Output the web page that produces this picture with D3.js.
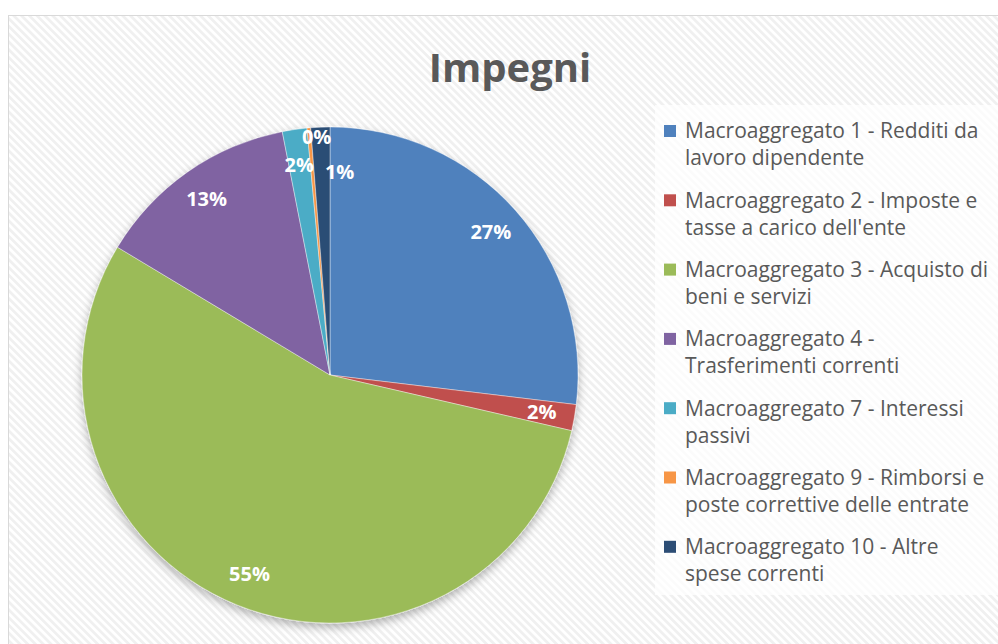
<!DOCTYPE html>
<html>
<head>
<meta charset="utf-8">
<script src="https://cdn.jsdelivr.net/npm/d3@7"></script>
<style>
  html, body { margin: 0; padding: 0; background: #fff; }
  svg { display: block; }
</style>
</head>
<body>
<div id="chart"></div>
<script>
// dati (percentuali)
var categories = [
  "Macroaggregato 1 - Redditi da\nlavoro dipendente",
  "Macroaggregato 2 - Imposte e\ntasse a carico dell'ente",
  "Macroaggregato 3 - Acquisto di\nbeni e servizi",
  "Macroaggregato 4 -\nTrasferimenti correnti",
  "Macroaggregato 7 - Interessi\npassivi",
  "Macroaggregato 9 - Rimborsi e\nposte correttive delle entrate",
  "Macroaggregato 10 - Altre\nspese correnti"
];
var values = [26.9, 1.7, 55.0, 13.3, 1.6, 0.24, 1.24];
var colors = ["#4F81BD", "#C0504D", "#9BBB59", "#8064A2", "#4BACC6", "#F79646", "#2C4D75"];
var title = "Impegni";

var cfg = {
  w: 998,
  h: 644,
  cx: 330,
  cy: 375,
  r: 248,
  labelR: 215,
  font: "'Open Sans', 'DejaVu Sans', sans-serif"
};

var svg = d3.select("#chart").append("svg")
  .attr("width", cfg.w)
  .attr("height", cfg.h);

var defs = svg.append("defs");

// sfondo a righe diagonali
var pat = defs.append("pattern")
  .attr("id", "hatch")
  .attr("patternUnits", "userSpaceOnUse")
  .attr("width", 5.5)
  .attr("height", 5.5)
  .attr("patternTransform", "rotate(45)");
pat.append("rect").attr("width", 5.5).attr("height", 5.5).attr("fill", "#ffffff");
pat.append("rect").attr("width", 5.5).attr("height", 2.7).attr("fill", "#f0f0f0");

var shadow = defs.append("filter")
  .attr("id", "shadow")
  .attr("x", "-20%").attr("y", "-20%")
  .attr("width", "140%").attr("height", "140%");
shadow.append("feDropShadow")
  .attr("dx", 0).attr("dy", 4)
  .attr("stdDeviation", 5)
  .attr("flood-color", "#000")
  .attr("flood-opacity", 0.3);

svg.append("rect")
  .attr("x", 8.5).attr("y", 15.5)
  .attr("width", cfg.w).attr("height", cfg.h)
  .attr("fill", "url(#hatch)")
  .attr("stroke", "#d9d9d9")
  .attr("stroke-width", 1);

// titolo
svg.append("text")
  .attr("x", 510)
  .attr("y", 82)
  .attr("text-anchor", "middle")
  .style("font-family", cfg.font)
  .style("font-size", "40px")
  .style("font-weight", "bold")
  .style("fill", "#595959")
  .text(title);

// torta
var pie = d3.pie().sort(null).value(function(d){ return d; });
var arcs = pie(values);
var arc = d3.arc().innerRadius(0).outerRadius(cfg.r);
var labelArc = d3.arc().innerRadius(cfg.labelR).outerRadius(cfg.labelR);

var g = svg.append("g")
  .attr("transform", "translate(" + cfg.cx + "," + cfg.cy + ")");

var slices = g.append("g").attr("filter", "url(#shadow)");
slices.selectAll("path")
  .data(arcs)
  .enter()
  .append("path")
  .attr("d", arc)
  .attr("fill", function(d, i){ return colors[i]; })
  .attr("stroke", "#ffffff")
  .attr("stroke-width", 0.4);

// piccoli spostamenti delle etichette delle fette sottili (come in Excel)
var labelNudge = { 4: [0, 3], 5: [5, -24], 6: [18, 12] };

var fmt = function(v){ return Math.round(v) + "%"; };
g.selectAll(".lbl")
  .data(arcs)
  .enter()
  .append("text")
  .attr("class", "lbl")
  .attr("transform", function(d, i){
    var c = labelArc.centroid(d);
    var n = labelNudge[i] || [0, 0];
    return "translate(" + (c[0] + n[0]) + "," + (c[1] + n[1]) + ")";
  })
  .attr("text-anchor", "middle")
  .attr("dy", "0.35em")
  .style("font-family", cfg.font)
  .style("font-size", "20px")
  .style("font-weight", "bold")
  .style("fill", "#ffffff")
  .text(function(d){ return fmt(d.data); });

// legenda
var lx = 664, ly = 131, step = 69.3, lineH = 27;
svg.append("rect")
  .attr("x", 655).attr("y", 105)
  .attr("width", 343).attr("height", 490)
  .attr("fill", "#ffffff")
  .attr("fill-opacity", 0.75);

var items = svg.selectAll(".leg")
  .data(categories)
  .enter()
  .append("g")
  .attr("class", "leg")
  .attr("transform", function(d, i){ return "translate(" + lx + "," + (ly + i * step) + ")"; });

items.append("rect")
  .attr("x", 0).attr("y", -6)
  .attr("width", 12).attr("height", 12)
  .attr("fill", function(d, i){ return colors[i]; });

items.append("text")
  .attr("x", 21)
  .attr("y", 0)
  .style("font-family", cfg.font)
  .style("font-size", "21px")
  .style("fill", "#595959")
  .each(function(d){
    var t = d3.select(this);
    d.split("\n").forEach(function(line, k){
      t.append("tspan")
        .attr("x", 21)
        .attr("y", k * lineH)
        .attr("dy", "0.35em")
        .text(line);
    });
  });
</script>
</body>
</html>
